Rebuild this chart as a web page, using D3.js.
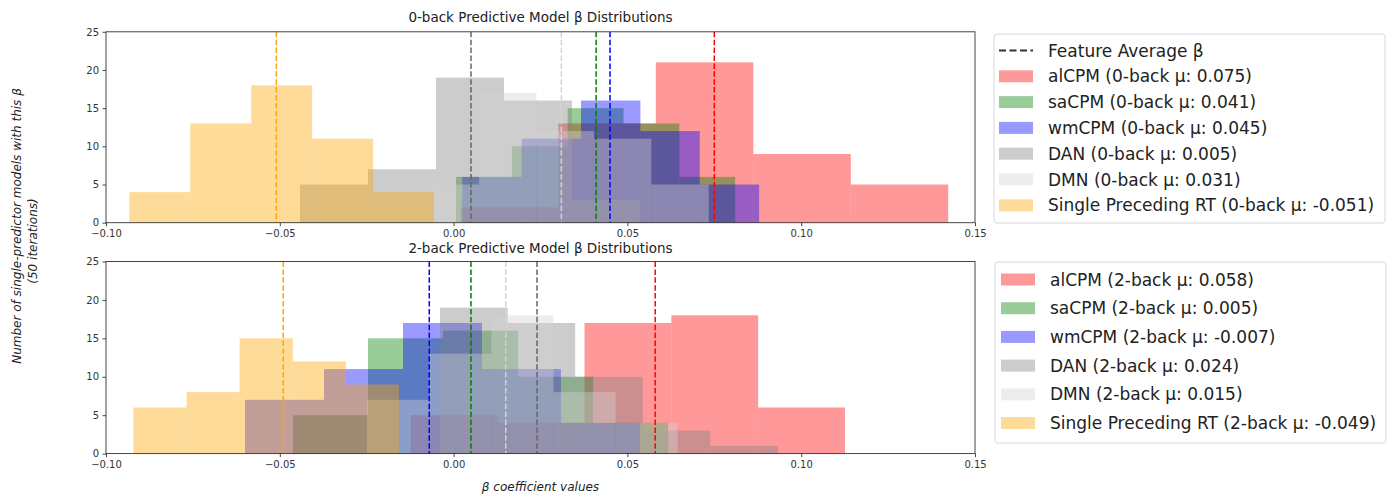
<!DOCTYPE html>
<html>
<head>
<meta charset="utf-8">
<script src="https://cdn.jsdelivr.net/npm/d3@7"></script>
<style>
  body { margin: 0; background: #fff; }
  svg { display: block; }
  text { font-family: "DejaVu Sans", sans-serif; }
</style>
</head>
<body>
<svg id="chart" width="1395" height="496"></svg>
<script>
// Predictor sets, in the order their histograms are layered
const seriesNames = ["alCPM", "saCPM", "wmCPM", "DAN", "DMN", "Single Preceding RT"];
const seriesColors = ["red", "green", "blue", "gray", "lightgray", "orange"];
const meanLineColors = ["red", "green", "blue", "#666666", "#d3d3d3", "orange"];

// 0-back: histogram range (min, max of the 50 betas) and bin counts
const binLow0 = [0.0021, 0.0007, 0.0025, -0.0442, -0.0092, -0.0933];
const binHigh0 = [0.1423, 0.0810, 0.0879, 0.0536, 0.0734, -0.0056];
const counts0 = [
  [2, 13, 21, 9, 5],
  [6, 10, 15, 13, 6],
  [6, 11, 16, 12, 5],
  [5, 7, 19, 16, 3],
  [5, 17, 12, 11, 5],
  [4, 13, 18, 11, 4]
];
const means0 = [0.075, 0.041, 0.045, 0.005, 0.031, -0.051];

// 2-back
const binLow2 = [-0.0123, -0.0462, -0.0600, -0.0039, -0.0249, -0.0921];
const binHigh2 = [0.1126, 0.0617, 0.0536, 0.0933, 0.0645, -0.0157];
const counts2 = [
  [5, 4, 17, 18, 6],
  [5, 15, 16, 10, 4],
  [7, 11, 17, 11, 4],
  [19, 17, 10, 3, 1],
  [7, 13, 18, 8, 4],
  [6, 8, 15, 12, 9]
];
const means2 = [0.058, 0.005, -0.007, 0.024, 0.015, -0.049];

const xTicks = [-0.10, -0.05, 0.00, 0.05, 0.10, 0.15];
const yTicks = [0, 5, 10, 15, 20, 25];

const svg = d3.select("#chart");
const x = d3.scaleLinear().domain([-0.10, 0.15]).range([106, 975]);
const fmtX = d => (d < 0 ? "\u2212" : "") + Math.abs(d).toFixed(2);

function drawPanel(cfg) {
  const y = d3.scaleLinear().domain([0, 25]).range([cfg.bottom, cfg.top]);
  const g = svg.append("g");

  // stacked-alpha histograms, one per predictor set
  seriesNames.forEach((name, i) => {
    const counts = cfg.counts[i];
    const w = (cfg.high[i] - cfg.low[i]) / counts.length;
    const bins = counts.map((c, k) => ({ x0: cfg.low[i] + k * w, x1: cfg.low[i] + (k + 1) * w, c }));
    g.append("g").selectAll("rect").data(bins).join("rect")
      .attr("x", d => x(d.x0))
      .attr("width", d => x(d.x1) - x(d.x0))
      .attr("y", d => y(d.c))
      .attr("height", d => y(0) - y(d.c))
      .attr("fill", seriesColors[i])
      .attr("fill-opacity", 0.4);
  });

  // mean markers
  g.append("g").selectAll("line").data(cfg.means).join("line")
    .attr("x1", d => x(d)).attr("x2", d => x(d))
    .attr("y1", cfg.top).attr("y2", cfg.bottom)
    .attr("stroke", (d, i) => meanLineColors[i])
    .attr("stroke-width", 1.5)
    .attr("stroke-dasharray", "5.5,2.4");

  // axes
  const ax = g.append("g").attr("transform", `translate(0,${cfg.bottom})`)
    .call(d3.axisBottom(x).tickValues(xTicks).tickFormat(fmtX).tickSize(3.5).tickPadding(3.5));
  const ay = g.append("g").attr("transform", `translate(${x.range()[0]},0)`)
    .call(d3.axisLeft(y).tickValues(yTicks).tickSize(3.5).tickPadding(3.5));
  [ax, ay].forEach(a => {
    a.select(".domain").remove();
    a.selectAll(".tick line").attr("stroke", "#333").attr("stroke-width", 0.9);
    a.selectAll(".tick text").attr("fill", "#333").style("font-size", "10px")
      .style("font-family", '"DejaVu Sans", sans-serif');
  });

  // frame
  g.append("rect")
    .attr("x", x.range()[0]).attr("y", cfg.top)
    .attr("width", x.range()[1] - x.range()[0]).attr("height", cfg.bottom - cfg.top)
    .attr("fill", "none").attr("stroke", "#333").attr("stroke-width", 0.9);

  // title
  g.append("text")
    .attr("x", (x.range()[0] + x.range()[1]) / 2).attr("y", cfg.titleY)
    .attr("text-anchor", "middle").attr("fill", "#222").style("font-size", "13.5px")
    .text(cfg.title);

  // legend
  const lg = g.append("g");
  const entries = [];
  if (cfg.showAverage) entries.push({ kind: "line", label: "Feature Average \u03b2" });
  seriesNames.forEach((name, i) => entries.push({
    kind: "patch", i,
    label: `${name} (${cfg.task} \u03bc: ${cfg.means[i].toFixed(3)})`
  }));
  lg.append("rect")
    .attr("x", cfg.legend.x).attr("y", cfg.legend.y)
    .attr("width", cfg.legend.w).attr("height", cfg.legend.h)
    .attr("rx", 3).attr("fill", "#fff").attr("stroke", "#d8d8d8").attr("stroke-width", 1);
  entries.forEach((e, k) => {
    const cy = cfg.legend.first + k * cfg.legend.step;
    const px = cfg.legend.patchX;
    if (e.kind === "line") {
      lg.append("line").attr("x1", px).attr("x2", px + 34).attr("y1", cy).attr("y2", cy)
        .attr("stroke", "#333").attr("stroke-width", 2).attr("stroke-dasharray", "7,3.5");
    } else {
      lg.append("rect").attr("x", px).attr("y", cy - 6).attr("width", 34).attr("height", 12)
        .attr("fill", seriesColors[e.i]).attr("fill-opacity", 0.4);
    }
    lg.append("text").attr("x", cfg.legend.textX).attr("y", cy)
      .attr("dominant-baseline", "central").attr("fill", "#222")
      .style("font-size", "17px").text(e.label);
  });
}

drawPanel({
  top: 31.8, bottom: 222.7, titleY: 22,
  title: "0-back Predictive Model \u03b2 Distributions", task: "0-back",
  low: binLow0, high: binHigh0, counts: counts0, means: means0, showAverage: true,
  legend: { x: 994, y: 34, w: 391, h: 189, first: 50.5, step: 25.8, patchX: 999, textX: 1048 }
});

drawPanel({
  top: 261.5, bottom: 453.6, titleY: 253,
  title: "2-back Predictive Model \u03b2 Distributions", task: "2-back",
  low: binLow2, high: binHigh2, counts: counts2, means: means2, showAverage: false,
  legend: { x: 995, y: 262, w: 391, h: 181, first: 279.5, step: 28.7, patchX: 1001, textX: 1050 }
});

// shared axis labels
svg.append("text")
  .attr("x", 540.5).attr("y", 491)
  .attr("text-anchor", "middle").attr("fill", "#222")
  .style("font-size", "12px").style("font-style", "italic")
  .text("\u03b2 coefficient values");

svg.append("text")
  .attr("transform", "translate(16.5,226) rotate(-90)")
  .attr("text-anchor", "middle").attr("dominant-baseline", "central").attr("fill", "#222")
  .style("font-size", "12px").style("font-style", "italic")
  .text("Number of single-predictor models with this \u03b2");
svg.append("text")
  .attr("transform", "translate(33,241) rotate(-90)")
  .attr("text-anchor", "middle").attr("dominant-baseline", "central").attr("fill", "#222")
  .style("font-size", "12px").style("font-style", "italic")
  .text("(50 iterations)");
</script>
</body>
</html>
